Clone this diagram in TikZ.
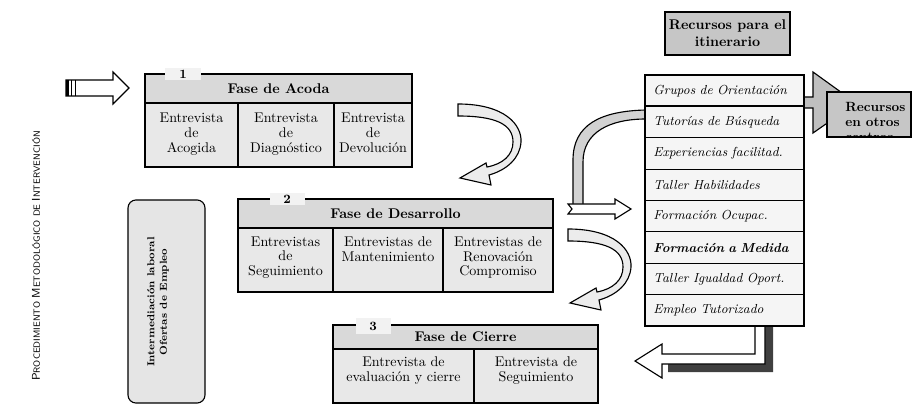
\documentclass[tikz,border=0pt]{standalone}
\usepackage{amsfonts, amsmath, amssymb}
\usepackage{tikz}
\usetikzlibrary{positioning}

\begin{document}
\begin{tikzpicture}[>=stealth, x=0.025cm, y=-0.025cm,
    head/.style={thick, rectangle, draw, fill=gray!30, font=\bfseries, inner sep=0pt},
    cell/.style={thick, rectangle, draw, fill=gray!18, inner sep=0pt},
    txt/.style={align=center, font=\fontsize{10}{10.5}\selectfont, inner sep=0pt},
    tab/.style={fill=gray!10, font=\small\bfseries, minimum width=8.75mm, minimum height=3mm, inner sep=0pt},
    item/.style={thick, rectangle, draw, fill=gray!8, minimum width=39.75mm, minimum height=7.84mm,
                 text width=35.5mm, align=left, font=\fontsize{9.3}{10}\selectfont\itshape, inner sep=0pt, outer sep=0pt},
    recbox/.style={thick, rectangle, draw, fill=gray!45, font=\bfseries, inner sep=0pt}]
        \useasboundingbox (0,0) rectangle (912,405);

        % title on the left
        \node [rotate=90, font=\sffamily] (titulo) at (36,256)
            {\fontsize{8}{9}\selectfont P\fontsize{6.4}{8}\selectfont ROCEDIMIENTO
             \fontsize{8}{9}\selectfont M\fontsize{6.4}{8}\selectfont ETODOLÓGICO DE
             \fontsize{8}{9}\selectfont I\fontsize{6.4}{8}\selectfont NTERVENCIÓN};

        % entry arrow
        \draw [thick, fill=white] (66,80) -- (113,80) -- (113,72) -- (129,88) -- (113,104) -- (113,96) -- (66,96) -- cycle;
        \draw [line width=2pt] (67.5,80) -- (67.5,96);
        \draw [line width=1.2pt] (71.5,80) -- (71.5,96);
        \draw [thick] (75.5,80) -- (75.5,96);

        % curved arrows between phases
        \begin{scope}
            \draw [thick, fill=gray!15] (458,104) .. controls (505,104) and (522,125) .. (521,142)
                .. controls (520,158) and (507,170) .. (489,175) -- (491,185) -- (460,178) -- (486,163) -- (487,167)
                .. controls (503,164) and (513,155) .. (513,142) .. controls (513,124) and (495,116) .. (458,116) -- cycle;
        \end{scope}
        \begin{scope}[shift={(110,125)}]
            \draw [thick, fill=gray!15] (458,104) .. controls (505,104) and (522,125) .. (521,142)
                .. controls (520,158) and (507,170) .. (489,175) -- (491,185) -- (460,178) -- (486,163) -- (487,167)
                .. controls (503,164) and (513,155) .. (513,142) .. controls (513,124) and (495,116) .. (458,116) -- cycle;
        \end{scope}

        % arrow from resources to phase 2
        \draw [thick, fill=gray!35] (646,110) .. controls (600,111) and (573,125) .. (573,160) -- (573,206)
            -- (583,206) -- (583,162) .. controls (583,132) and (610,119) .. (646,119) -- cycle;
        \draw [thick, fill=white] (568,204) -- (615,204) -- (615,199) -- (631,209) -- (615,219) -- (615,214) -- (568,214) -- (572,209) -- cycle;

        % arrow from resources to phase 3
        \fill [black!75] (765,326) -- (773,326) -- (773,372) -- (668,372) -- (668,364) -- (765,364) -- cycle;
        \draw [thick, fill=white] (755,326) -- (755,354) -- (662,354) -- (662,344) -- (635,361) -- (662,378)
            -- (662,364) -- (765,364) -- (765,326);

        % arrow to other centres
        \draw [thick, fill=gray!50] (804,97) -- (813,97) -- (813,72) -- (856,103) -- (813,133) -- (813,108) -- (804,108);

        % phase 1
        \node [head, minimum width=66.75mm, minimum height=7.25mm] (h1) at (278.5,88.5) {Fase de Acoda};
        \node [cell, minimum width=23.25mm, minimum height=16mm] (c11) at (191.5,135) {};
        \node [cell, minimum width=24mm, minimum height=16mm] (c12) at (286,135) {};
        \node [cell, minimum width=19.5mm, minimum height=16mm] (c13) at (373,135) {};
        \node [txt, below=2.6mm of c11.north] (t11) {Entrevista\\de\\Acogida};
        \node [txt, below=2.6mm of c12.north] (t12) {Entrevista\\de\\Diagnóstico};
        \node [txt, below=2.6mm of c13.north] (t13) {Entrevista\\de\\Devolución};
        \node [tab] (n1) at (183,74) {1};

        % phase 2
        \node [head, minimum width=78.75mm, minimum height=7.25mm] (h2) at (395.5,213.5) {Fase de Desarrollo};
        \node [cell, minimum width=23.75mm, minimum height=16mm] (c21) at (285.5,260) {};
        \node [cell, minimum width=27.5mm, minimum height=16mm] (c22) at (388,260) {};
        \node [cell, minimum width=27.5mm, minimum height=16mm] (c23) at (498,260) {};
        \node [txt, below=2.2mm of c21.north] (t21) {Entrevistas\\de\\Seguimiento};
        \node [txt, below=2.2mm of c22.north] (t22) {Entrevistas de\\Mantenimiento};
        \node [txt, below=2.2mm of c23.north] (t23) {Entrevistas de\\Renovación\\Compromiso};
        \node [tab] (n2) at (287,199) {2};

        % phase 3
        \node [head, minimum width=66.25mm, minimum height=6mm] (h3) at (465.5,337) {Fase de Cierre};
        \node [cell, minimum width=35.25mm, minimum height=13.5mm] (c31) at (403.5,376) {};
        \node [cell, minimum width=31mm, minimum height=13.5mm] (c32) at (536,376) {};
        \node [txt, below=2mm of c31.north] (t31) {Entrevista de\\evaluación y cierre};
        \node [txt, below=2mm of c32.north] (t32) {Entrevista de\\Seguimiento};
        \node [tab, minimum height=4mm] (n3) at (373,326) {3};

        % labour intermediation
        \node [thick, draw, rounded corners=2mm, fill=gray!20, minimum width=19.25mm, minimum height=50.75mm] (inter) at (166.5,301.5) {};
        \node [rotate=90, align=center, inner sep=0pt, font=\fontsize{7.2}{9}\selectfont\bfseries] (intertxt) at (158,302)
            {Intermediación laboral\\Ofertas de Empleo};

        % resources
        \node [recbox, align=center, minimum width=31.25mm, minimum height=10.75mm] (rec) at (727.5,33.5) {Recursos para el\\itinerario};
        \node [item] (r1) at (724.5,90.7) {Grupos de Orientación};
        \node [item, below=0pt of r1] (r2) {Tutorías de Búsqueda};
        \node [item, below=0pt of r2] (r3) {Experiencias facilitad.};
        \node [item, below=0pt of r3] (r4) {Taller Habilidades};
        \node [item, below=0pt of r4] (r5) {Formación Ocupac.};
        \node [item, below=0pt of r5, font=\fontsize{9.3}{10}\selectfont\bfseries\itshape] (r6) {Formación a Medida};
        \node [item, below=0pt of r6] (r7) {Taller Igualdad Oport.};
        \node [item, below=0pt of r7] (r8) {Empleo Tutorizado};
        \draw [line width=1.4pt] (r2.north west) -- (r2.north east);

        % other centres
        \node [recbox, minimum width=21mm, minimum height=11.25mm] (otros) at (869,114.5) {};
        \begin{scope}
            \clip (otros.south west) rectangle (otros.north east);
            \node [anchor=north west, align=left, inner sep=0pt, font=\fontsize{9.5}{10.7}\selectfont\bfseries] (otrostxt) at (845,102)
                {Recursos\\en otros\\centros};
        \end{scope}
\end{tikzpicture}
\end{document}
